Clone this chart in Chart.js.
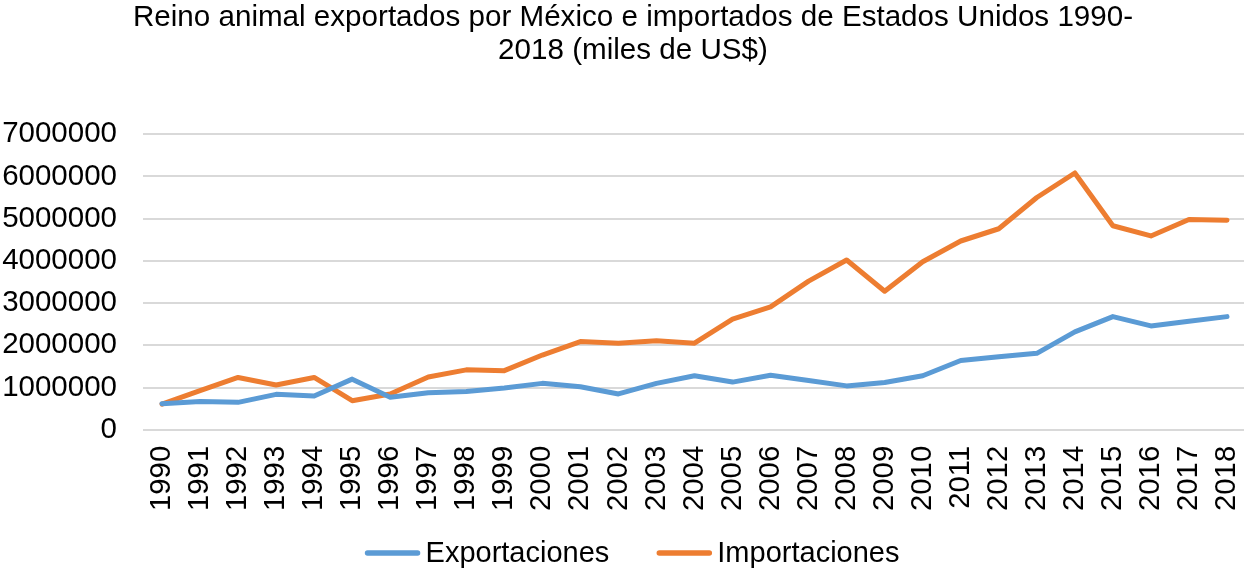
<!DOCTYPE html>
<html>
<head>
<meta charset="utf-8">
<script src="https://cdn.jsdelivr.net/npm/chart.js@4"></script>
<style>
html,body{margin:0;padding:0;background:#fff;overflow:hidden;}
#wrap{width:1244px;height:571px;position:relative;overflow:hidden;}
</style>
</head>
<body>
<div id="wrap"><canvas id="c" width="1264" height="571"></canvas></div>
<script>
const years = ["1990","1991","1992","1993","1994","1995","1996","1997","1998","1999","2000","2001","2002","2003","2004","2005","2006","2007","2008","2009","2010","2011","2012","2013","2014","2015","2016","2017","2018"];
const exportaciones = [620000,670000,650000,840000,800000,1200000,770000,880000,905000,990000,1100000,1020000,850000,1100000,1280000,1130000,1290000,1170000,1040000,1120000,1280000,1640000,1730000,1810000,2320000,2680000,2460000,2570000,2680000];
const importaciones = [610000,930000,1240000,1060000,1240000,690000,850000,1250000,1420000,1400000,1770000,2090000,2050000,2110000,2050000,2620000,2910000,3520000,4020000,3280000,3980000,4470000,4760000,5500000,6080000,4830000,4590000,4980000,4960000];
const yTicks = [0,1000000,2000000,3000000,4000000,5000000,6000000,7000000];
const titleLines = ["Reino animal exportados por México e importados de Estados Unidos 1990-","2018 (miles de US$)"];

const FONT = "'Liberation Sans', Arial, sans-serif";

const lineLegend = {
  id:'lineLegend',
  afterDraw(chart){
    const ctx = chart.ctx;
    const ds = chart.data.datasets;
    ctx.save();
    ctx.font = "29px " + FONT;
    ctx.textBaseline = 'middle';
    ctx.textAlign = 'left';
    const lineW = 56, gapText = 5, gapItem = 47;
    const widths = ds.map(d => ctx.measureText(d.label).width);
    let total = 0;
    ds.forEach((d,i)=>{ total += lineW + gapText + widths[i] + (i < ds.length-1 ? gapItem : 0); });
    let x = 632 - total/2;
    const y = 553;
    ds.forEach((d,i)=>{
      ctx.strokeStyle = d.borderColor;
      ctx.lineWidth = 5.5;
      ctx.lineCap = 'round';
      ctx.beginPath();
      ctx.moveTo(x + 3, y);
      ctx.lineTo(x + lineW - 3, y);
      ctx.stroke();
      ctx.fillStyle = '#000';
      ctx.fillText(d.label, x + lineW + gapText, y + 1);
      x += lineW + gapText + widths[i] + gapItem;
    });
    ctx.restore();
  }
};

new Chart(document.getElementById('c'), {
  type: 'line',
  data: {
    labels: years,
    datasets: [
      {label:'Exportaciones', data: exportaciones, borderColor:'#5B9BD5', backgroundColor:'#5B9BD5', borderWidth:5, pointRadius:0, tension:0, borderCapStyle:'round', borderJoinStyle:'round'},
      {label:'Importaciones', data: importaciones, borderColor:'#ED7D31', backgroundColor:'#ED7D31', borderWidth:5, pointRadius:0, tension:0, borderCapStyle:'round', borderJoinStyle:'round'}
    ]
  },
  plugins:[lineLegend],
  options: {
    responsive:false,
    animation:false,
    layout:{padding:{left:2,right:0,top:2,bottom:44}},
    plugins:{
      title:{display:true, text:titleLines, color:'#000', font:{family:FONT, size:29.6, weight:'normal', lineHeight:1.1}, padding:{top:0,bottom:67}},
      legend:{display:false},
      tooltip:{enabled:false}
    },
    scales:{
      x:{
        offset:true,
        afterFit:(s)=>{ s.paddingRight = 18; s.paddingLeft = 0; },
        grid:{display:false, drawTicks:false},
        border:{display:false},
        ticks:{color:'#000', font:{family:FONT, size:29.3}, maxRotation:90, minRotation:90, padding:16, autoSkip:false}
      },
      y:{
        min:0, max:7000000,
        afterBuildTicks:(s)=>{ s.ticks = yTicks.map(v=>({value:v})); },
        afterFit:(s)=>{ s.width = 141; s.paddingTop = 0; s.paddingBottom = 0; },
        grid:{color:'#d9d9d9', lineWidth:2, drawTicks:false},
        border:{display:false},
        ticks:{color:'#000', font:{family:FONT, size:29.5}, padding:26, callback:(v)=>String(v)}
      }
    }
  }
});
</script>
</body>
</html>
